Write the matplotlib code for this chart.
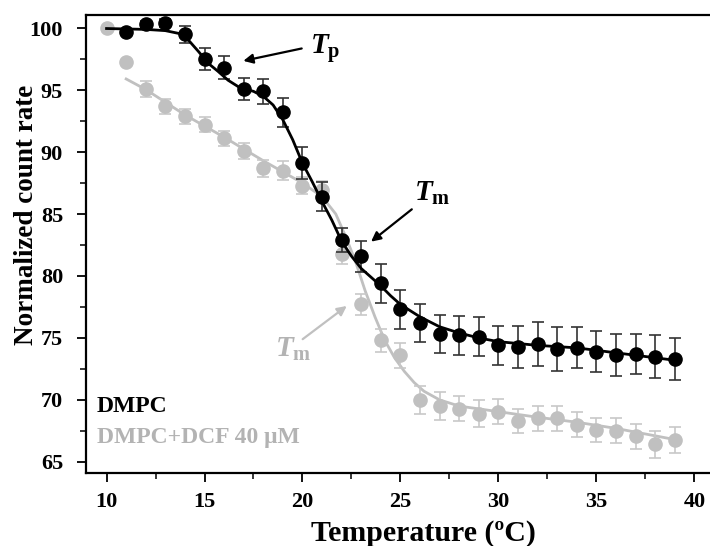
import matplotlib
matplotlib.use("Agg")
import matplotlib.pyplot as plt
from matplotlib.ticker import MultipleLocator

# ---------------- data ----------------
temp_dmpc = [11, 12, 13, 14, 15, 16, 17, 18, 19, 20, 21, 22, 23, 24, 25,
             26, 27, 28, 29, 30, 31, 32, 33, 34, 35, 36, 37, 38, 39]
rate_dmpc = [99.7, 100.3, 100.4, 99.5, 97.5, 96.8, 95.1, 94.9, 93.2, 89.1,
             86.4, 82.9, 81.6, 79.4, 77.3, 76.2, 75.3, 75.2, 75.1, 74.4,
             74.3, 74.5, 74.1, 74.2, 73.9, 73.6, 73.7, 73.5, 73.3]
err_dmpc = [0.15, 0.3, 0.3, 0.7, 0.86, 0.94, 0.86, 1.0, 1.17, 1.28,
            1.17, 1.0, 1.24, 1.57, 1.55, 1.56, 1.55, 1.59, 1.55, 1.59,
            1.69, 1.75, 1.76, 1.65, 1.64, 1.68, 1.63, 1.77, 1.71]

temp_dcf = [10, 11, 12, 13, 14, 15, 16, 17, 18, 19, 20, 21, 22, 23, 24, 25,
            26, 27, 28, 29, 30, 31, 32, 33, 34, 35, 36, 37, 38, 39]
rate_dcf = [100.0, 97.3, 95.1, 93.7, 92.9, 92.2, 91.1, 90.1, 88.7, 88.5,
            87.3, 86.9, 81.8, 77.7, 74.8, 73.6, 70.0, 69.5, 69.3, 68.9,
            69.05, 68.3, 68.5, 68.5, 68.0, 67.6, 67.5, 67.05, 66.4, 66.8]
err_dcf = [0.0, 0.15, 0.63, 0.6, 0.6, 0.6, 0.6, 0.65, 0.7, 0.74,
           0.7, 0.75, 0.8, 0.87, 0.94, 1.0, 1.1, 1.13, 1.0, 1.07,
           1.0, 1.0, 1.0, 1.0, 1.0, 0.97, 1.0, 1.0, 1.1, 1.05]

# fitted curves
fit_dmpc_t = [10, 12, 13, 13.7, 14.2, 14.7, 15.2, 15.7, 16.2, 16.8, 17.5,
              18.0, 18.5, 19.0, 19.5, 20.0, 20.5, 21.0, 21.5, 22.0, 22.5,
              23.0, 23.5, 24.0, 24.5, 25.0, 26.0, 27.0, 28.0, 29.0, 30.0,
              32.0, 34.0, 36.0, 38.0, 39.0]
fit_dmpc_v = [99.97, 99.9, 99.8, 99.57, 99.0, 98.1, 97.15, 96.5, 95.8, 95.2,
              94.9, 94.5, 93.8, 92.6, 91.0, 89.1, 87.6, 86.0, 84.5, 82.8,
              81.6, 80.6, 79.9, 79.2, 78.4, 77.7, 76.7, 75.9, 75.4, 75.0,
              74.7, 74.4, 74.2, 73.8, 73.4, 73.2]

fit_dcf_t = [11, 12, 14, 16, 18, 20, 21, 21.7, 22.2, 22.7, 23.2, 23.7,
             24.2, 24.7, 25.2, 25.7, 26.2, 27.0, 28.0, 30.0, 32.0, 34.0,
             36.0, 38.0, 39.0]
fit_dcf_v = [95.9, 95.05, 93.0, 91.2, 89.3, 87.5, 86.4, 85.0, 83.2, 81.2,
             78.8, 76.7, 74.8, 73.4, 72.3, 71.4, 70.7, 70.0, 69.5, 69.05,
             68.6, 68.2, 67.7, 67.1, 66.8]

xticks = [10, 15, 20, 25, 30, 35, 40]
yticks = [65, 70, 75, 80, 85, 90, 95, 100]

# ---------------- styling ----------------
plt.rcParams['font.family'] = ['Liberation Serif', 'DejaVu Serif']
plt.rcParams['font.weight'] = 'bold'
plt.rcParams['mathtext.fontset'] = 'custom'
plt.rcParams['mathtext.rm'] = 'Liberation Serif:bold'
plt.rcParams['mathtext.it'] = 'Liberation Serif:italic:bold'
plt.rcParams['mathtext.bf'] = 'Liberation Serif:bold'

BLACK = '#000000'
GREY = '#c0c0c0'
GREY_TXT = '#b3b3b3'

fig = plt.figure(figsize=(7.10, 5.46), dpi=100)
ax = fig.add_axes([0.1211, 0.1337, 0.8789, 0.8397])

# grey series
ax.plot(fit_dcf_t, fit_dcf_v, color=GREY, lw=2.0, zorder=2)
ax.errorbar(temp_dcf, rate_dcf, yerr=err_dcf, fmt='o', color=GREY,
            ms=9.5, ecolor='#c8c8c8', elinewidth=1.2, capsize=4,
            capthick=1.2, zorder=3)

# black series
ax.errorbar(temp_dmpc, rate_dmpc, yerr=err_dmpc, fmt='o', color=BLACK,
            ms=9.5, ecolor='#333333', elinewidth=1.2, capsize=4,
            capthick=1.2, zorder=5)
ax.plot(fit_dmpc_t, fit_dmpc_v, color=BLACK, lw=2.0, zorder=6)

ax.set_xlim(8.95, 40.8)
ax.set_ylim(64.1, 101.1)
ax.set_xticks(xticks)
ax.set_yticks(yticks)
ax.xaxis.set_minor_locator(MultipleLocator(2.5))
ax.yaxis.set_minor_locator(MultipleLocator(2.5))
ax.tick_params(which='major', direction='out', length=6.5, width=1.3,
               labelsize=16)
ax.tick_params(axis='x', which='major', pad=7.5)
ax.tick_params(axis='y', which='major', pad=10)
ax.tick_params(which='minor', direction='out', length=4.5, width=1.1)
for lab in ax.get_xticklabels() + ax.get_yticklabels():
    lab.set_fontweight('bold')
for s in ['left', 'bottom', 'top']:
    ax.spines[s].set_linewidth(1.6)
ax.spines['right'].set_visible(False)

ax.set_xlabel('Temperature (ºC)', fontsize=21.5, fontweight='bold')
ax.set_ylabel('Normalized count rate', fontsize=19.5, fontweight='bold')
ax.xaxis.set_label_coords(0.541, -0.103)
ax.yaxis.set_label_coords(-0.076, 0.562)

# legend-like texts
ax.text(9.5, 69.5, 'DMPC', fontsize=17, fontweight='bold', color=BLACK,
        va='center', ha='left')
ax.text(9.5, 67.0, 'DMPC+DCF 40 μM', fontsize=17, fontweight='bold',
        color=GREY_TXT, va='center', ha='left')

# annotations
ax.annotate('', xy=(16.98, 97.36), xytext=(19.96, 98.36),
            arrowprops=dict(arrowstyle='-|>', color=BLACK, lw=1.6,
                            mutation_scale=14, shrinkA=0, shrinkB=0),
            zorder=7)
ax.text(20.4, 98.35, r'$\mathit{T}_{\mathrm{p}}$', fontsize=21,
        color=BLACK, va='center', ha='left')

ax.annotate('', xy=(23.5, 82.77), xytext=(25.58, 85.38),
            arrowprops=dict(arrowstyle='-|>', color=BLACK, lw=1.6,
                            mutation_scale=14, shrinkA=0, shrinkB=0),
            zorder=7)
ax.text(25.7, 86.7, r'$\mathit{T}_{\mathrm{m}}$', fontsize=21,
        color=BLACK, va='center', ha='left')

ax.annotate('', xy=(22.26, 77.58), xytext=(20.01, 74.9),
            arrowprops=dict(arrowstyle='-|>', color=GREY, lw=1.6,
                            mutation_scale=14, shrinkA=0, shrinkB=0),
            zorder=7)
ax.text(18.6, 74.1, r'$\mathit{T}_{\mathrm{m}}$', fontsize=21,
        color=GREY_TXT, va='center', ha='left')

fig.savefig('out.png', dpi=100)
